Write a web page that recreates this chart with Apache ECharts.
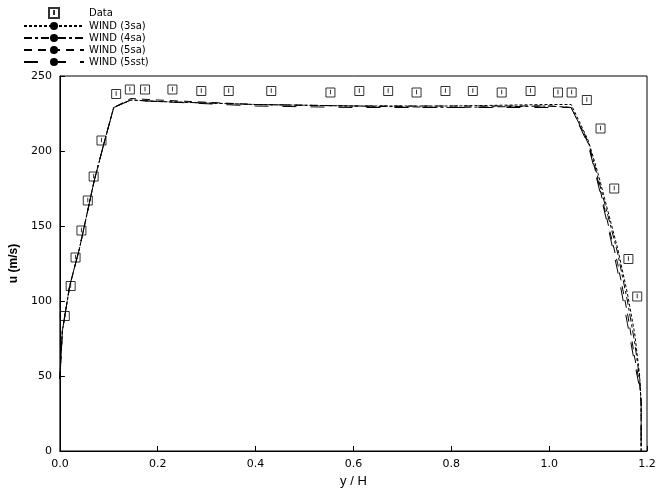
<!DOCTYPE html><html><head><meta charset="utf-8"><script src="https://cdn.jsdelivr.net/npm/echarts@6/dist/echarts.min.js"></script></head><body style="margin:0"><div id="c" style="width:659px;height:494px"></div><script>
const dataX=[0.010,0.022,0.032,0.044,0.057,0.069,0.085,0.115,0.143,0.174,0.230,0.289,0.345,0.432,0.553,0.612,0.671,0.729,0.788,0.844,0.903,0.962,1.018,1.046,1.077,1.105,1.133,1.162,1.180];
const dataU=[90,110,129,147,167,183,207,238,241,241,241,240,240,240,239,240,240,239,240,240,239,240,239,239,234,215,175,128,103];
const lineX=[0,0.005,0.02,0.04,0.07,0.09,0.11,0.145,0.2,0.4,0.6,0.8,1.0,1.045,1.08,1.1,1.12,1.14,1.16,1.175,1.185,1.188,1.188];
const wind3sa=[48,80,110,135,180,205,229,234,233,231,230,230,231,231,207,185,160,135,105,78,50,32,0];
const wind4sa=[48,80,110,135,180,205,229,234,233,231,230,229,230,229,206,182,157,132,100,72,48,32,0];
const wind5sa=[48,80,110,135,180,205,229,235,234,231,230,230,230,229,205,180,152,125,92,62,45,32,0];
const wind5sst=[48,80,110,135,180,205,229,234,233,230,229,229,229,229,204,178,150,120,85,58,42,32,0];
const z=(a)=>lineX.map((x,i)=>[x,a[i]]);
const lc='#000';
const mk=(name,d,type)=>({name,type:'line',data:z(d),symbol:'none',lineStyle:{color:lc,width:1,type},itemStyle:{color:lc}});
const ch=echarts.init(document.getElementById('c'));
const ax={axisLine:{lineStyle:{color:'#000'}},axisTick:{inside:true,lineStyle:{color:'#000'}},axisLabel:{color:'#000',fontSize:11,fontFamily:'DejaVu Sans'},splitLine:{show:false}};
ch.setOption({animation:false,backgroundColor:'#fff',
grid:{left:53,right:12,top:76,bottom:43,show:true,borderColor:'#000',borderWidth:1},
legend:{orient:'vertical',left:18,top:2,itemGap:2,itemWidth:60,itemHeight:10,textStyle:{fontSize:10,color:'#000',fontFamily:'DejaVu Sans'},
 data:['Data','WIND (3sa)','WIND (4sa)','WIND (5sa)','WIND (5sst)']},
xAxis:Object.assign({type:'value',min:0,max:1.2,interval:0.2,name:'y / H',nameLocation:'middle',nameGap:22,nameTextStyle:{fontSize:13,color:'#000'}},ax,{axisLabel:Object.assign({},ax.axisLabel,{formatter:v=>v.toFixed(1)})}),
yAxis:Object.assign({type:'value',min:0,max:250,interval:50,name:'u (m/s)',nameLocation:'middle',nameGap:35,nameTextStyle:{fontSize:12,fontWeight:'bold',color:'#000'}},ax),
series:[
{name:'Data',type:'scatter',data:dataX.map((x,i)=>[x,dataU[i]]),symbol:'path://M0,0H10V10H0Z M5,2V7',symbolSize:9,itemStyle:{color:'transparent',borderColor:'#000',borderWidth:1}},
mk('WIND (3sa)',wind3sa,[3,2]),
mk('WIND (4sa)',wind4sa,[8,3,3,3]),
mk('WIND (5sa)',wind5sa,[8,6]),
mk('WIND (5sst)',wind5sst,[14,14])
]});
</script></body></html>
